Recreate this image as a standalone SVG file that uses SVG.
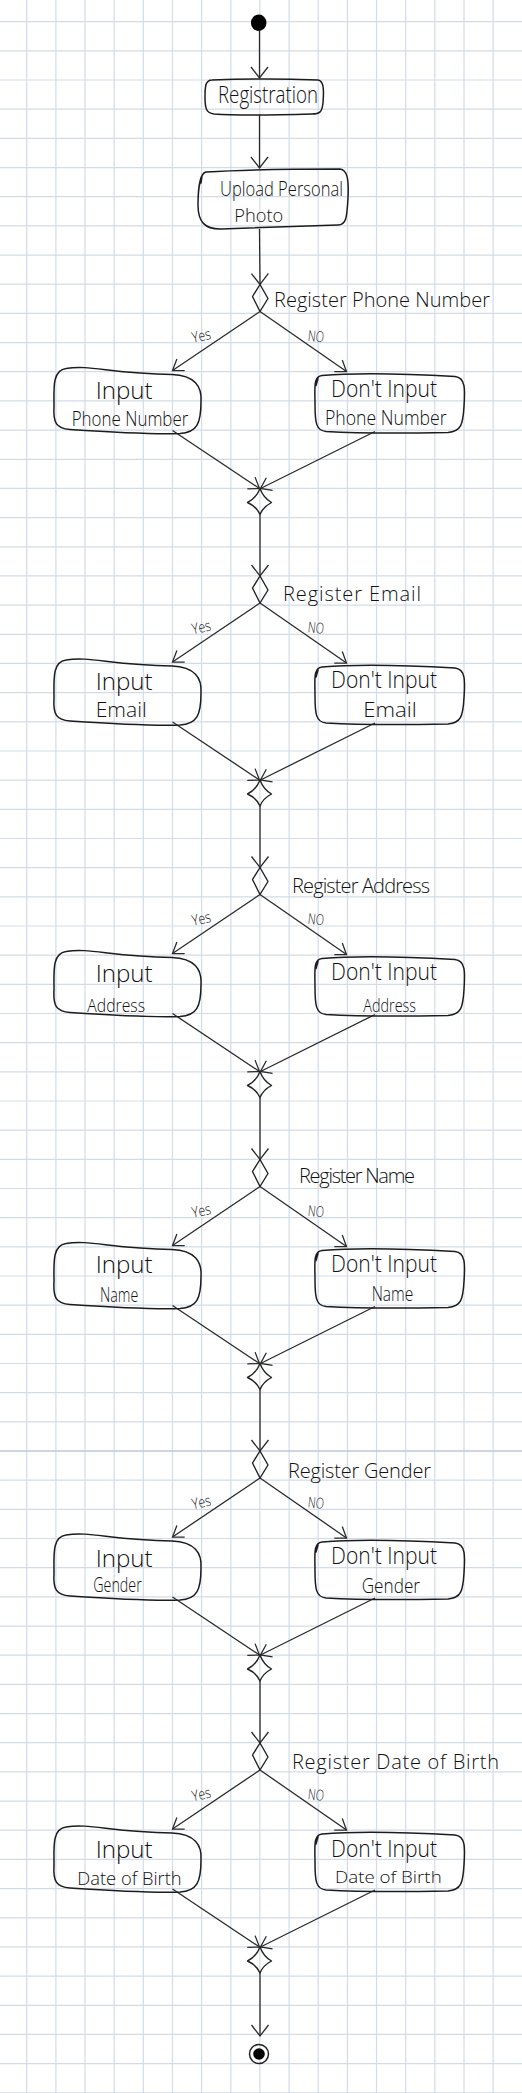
<svg xmlns="http://www.w3.org/2000/svg" xmlns:xlink="http://www.w3.org/1999/xlink" width="522" height="2093" viewBox="0 0 522 2093">
<style>
.grid{stroke:#d3dbe9;stroke-width:1.2;fill:none}
.box{fill:none;stroke:#1c1c1c;stroke-width:1.5;stroke-linejoin:round;stroke-linecap:round}
.dia{fill:none;stroke:#222;stroke-width:1.4;stroke-linejoin:round}
.conn line{stroke:#2a2a2a;stroke-width:1.3}
.v{marker-end:url(#ahv)}
.d{marker-end:url(#ahd)}
text{font-family:"Open Sans","Liberation Sans",Arial,sans-serif;font-weight:300;fill:#111}
.lab{font-size:20px}
.box1{font-size:23px}
.sm{font-size:15px}
</style>
<defs>
<marker id="ahv" viewBox="-13 -11 15 22" refX="0" refY="0" markerWidth="15" markerHeight="22" orient="auto" markerUnits="userSpaceOnUse">
<path d="M-11 -8.5 L0 0 L-11 8.5" fill="none" stroke="#2a2a2a" stroke-width="1.3"/>
</marker>
<marker id="ahd" viewBox="-12 -9 14 18" refX="0" refY="0" markerWidth="14" markerHeight="18" orient="auto" markerUnits="userSpaceOnUse">
<path d="M-10 -7 L0 0 L-10 7" fill="none" stroke="#2a2a2a" stroke-width="1.3"/>
</marker>
<path id="dec" class="dia" d="M0 -14 L8 0 L0 13 L-7.5 -2 Z"/>
<path id="merge" class="dia" d="M0 0 Q3.5 9.5 11.5 14 Q3 18.5 0 26 Q-3.5 18 -12.5 14 Q-3.5 9.5 0 0 Z"/>
<path id="boxL" class="box" d="M66 70 C90 66 110 75 172 76 C195 77 202 88 201 103 C201 125 197 134 180 135 C150 136 100 133 70 131 C56 130 53 124 54 108 C54 90 52 72 66 70 Z"/>
<path id="boxR" class="box" d="M322 77 C360 74 400 75 455 78 C466 79 465 92 464 108 C463 126 461 133 448 134 C400 135 360 135 326 133 C316 132 315 124 315 106 C315 90 313 78 322 77 Z M318 80 L316 87"/>
</defs>

<g id="grid">
<path class="grid" d="M26.7 0V2093M55.9 0V2093M85 0V2093M114.2 0V2093M143.3 0V2093M172.5 0V2093M201.6 0V2093M230.8 0V2093M259.9 0V2093M289.1 0V2093M318.2 0V2093M347.4 0V2093M376.5 0V2093M405.7 0V2093M434.8 0V2093M464 0V2093M493.1 0V2093
M0 21.7H522M0 50.9H522M0 80H522M0 109.2H522M0 138.4H522M0 167.6H522M0 196.7H522M0 225.9H522M0 255.1H522M0 284.2H522M0 313.4H522M0 342.6H522M0 371.7H522M0 400.9H522M0 430.1H522M0 459.3H522M0 488.4H522M0 517.6H522M0 546.8H522M0 575.9H522M0 605.1H522M0 634.3H522M0 663.4H522M0 692.6H522M0 721.8H522M0 751H522M0 780.1H522M0 809.3H522M0 838.5H522M0 867.6H522M0 896.8H522M0 926H522M0 955.1H522M0 984.3H522M0 1013.5H522M0 1042.7H522M0 1071.8H522M0 1101H522M0 1130.2H522M0 1159.3H522M0 1188.5H522M0 1217.7H522M0 1246.8H522M0 1276H522M0 1305.2H522M0 1334.4H522M0 1363.5H522M0 1392.7H522M0 1421.9H522M0 1480.2H522M0 1509.4H522M0 1538.5H522M0 1567.7H522M0 1596.9H522M0 1626.1H522M0 1655.2H522M0 1684.4H522M0 1713.6H522M0 1742.7H522M0 1771.9H522M0 1801.1H522M0 1830.2H522M0 1859.4H522M0 1888.6H522M0 1917.8H522M0 1946.9H522M0 1976.1H522M0 2005.3H522M0 2034.4H522M0 2063.6H522M0 2092.8H522"/>
<path d="M0 1451H522" stroke="#bcc7dc" stroke-width="1.3"/>
</g>

<g id="connectors" class="conn">
<line class="v" x1="259.5" y1="30" x2="259.5" y2="78"/>
<line class="v" x1="259.5" y1="115" x2="259.5" y2="168"/>
<line class="v" x1="259.5" y1="229" x2="260" y2="284.5"/>
<line class="d" x1="260" y1="311.5" x2="172.5" y2="370.5"/>
<line class="d" x1="260" y1="311.5" x2="346.5" y2="371.5"/>
<line class="d" x1="172.5" y1="430.5" x2="259.5" y2="488.5"/>
<line class="d" x1="375" y1="431.5" x2="260.5" y2="488.5"/>
<line class="v" x1="260" y1="514.5" x2="260" y2="576"/>
<line class="d" x1="260" y1="603" x2="172.5" y2="662"/>
<line class="d" x1="260" y1="603" x2="346.5" y2="663"/>
<line class="d" x1="172.5" y1="722" x2="259.5" y2="780"/>
<line class="d" x1="375" y1="723" x2="260.5" y2="780"/>
<line class="v" x1="260" y1="806" x2="260" y2="867.5"/>
<line class="d" x1="260" y1="894.5" x2="172.5" y2="953.5"/>
<line class="d" x1="260" y1="894.5" x2="346.5" y2="954.5"/>
<line class="d" x1="172.5" y1="1013.5" x2="259.5" y2="1071.5"/>
<line class="d" x1="375" y1="1014.5" x2="260.5" y2="1071.5"/>
<line class="v" x1="260" y1="1097.5" x2="260" y2="1159.5"/>
<line class="d" x1="260" y1="1186.5" x2="172.5" y2="1245.5"/>
<line class="d" x1="260" y1="1186.5" x2="346.5" y2="1246.5"/>
<line class="d" x1="172.5" y1="1305.5" x2="259.5" y2="1363.5"/>
<line class="d" x1="375" y1="1306.5" x2="260.5" y2="1363.5"/>
<line class="v" x1="260" y1="1389.5" x2="260" y2="1451"/>
<line class="d" x1="260" y1="1478" x2="172.5" y2="1537"/>
<line class="d" x1="260" y1="1478" x2="346.5" y2="1538"/>
<line class="d" x1="172.5" y1="1597" x2="259.5" y2="1655"/>
<line class="d" x1="375" y1="1598" x2="260.5" y2="1655"/>
<line class="v" x1="260" y1="1681" x2="260" y2="1743"/>
<line class="d" x1="260" y1="1770" x2="172.5" y2="1829"/>
<line class="d" x1="260" y1="1770" x2="346.5" y2="1830"/>
<line class="d" x1="172.5" y1="1889" x2="259.5" y2="1947"/>
<line class="d" x1="375" y1="1890" x2="260.5" y2="1947"/>
<line class="v" x1="260" y1="1973" x2="260" y2="2036"/>
</g>

<g id="start"><ellipse cx="258.7" cy="22.7" rx="7.8" ry="8.2" fill="#000"/></g>

<g id="registration">
<path class="box" d="M212 80 C240 79 290 79 318 80 C324 81 324 90 323 103 C322 112 320 114 312 114 C280 115 240 116 214 114 C206 113 205 108 205 97 C205 88 205 80 212 80 Z M206 84 L205 91"/>
<text x="218" y="103" font-size="24" textLength="100" lengthAdjust="spacingAndGlyphs">Registration</text>
</g>

<g id="upload-photo">
<path class="box" d="M206 172 C240 170 280 169 340 169 C347 170 349 178 348 198 C347 218 346 225 338 225 C300 226 260 228 220 229 C205 229 198 222 198 205 C198 190 200 173 206 172 Z M202 176 L201 183"/>
<text x="220" y="196" font-size="20" textLength="123" lengthAdjust="spacingAndGlyphs">Upload Personal</text>
<text x="234.3" y="222" font-size="19" textLength="49" lengthAdjust="spacingAndGlyphs">Photo</text>
</g>

<g id="dec-phone"><use xlink:href="#dec" href="#dec" x="260" y="298.5"/>
<text class="lab" x="274" y="306.5" textLength="216" lengthAdjust="spacing">Register Phone Number</text>
<text class="sm" x="192" y="341" textLength="19" lengthAdjust="spacingAndGlyphs" transform="rotate(-12 201 337)">Yes</text>
<text class="sm" x="308" y="341.5" textLength="16" lengthAdjust="spacingAndGlyphs" transform="rotate(6 316 337)">NO</text></g>
<g id="input-phone"><use xlink:href="#boxL" href="#boxL" y="298.5"/>
<text class="box1" x="95.7" y="398.5" textLength="57" lengthAdjust="spacingAndGlyphs">Input</text>
<text x="71.7" y="425.7" font-size="21" textLength="116.6" lengthAdjust="spacingAndGlyphs">Phone Number</text></g>
<g id="noinput-phone"><use xlink:href="#boxR" href="#boxR" y="298.5"/>
<text class="box1" x="331" y="396.5" textLength="106" lengthAdjust="spacingAndGlyphs">Don't Input</text>
<text x="325" y="425" font-size="21" textLength="121.7" lengthAdjust="spacingAndGlyphs">Phone Number</text></g>
<g id="merge-phone"><use xlink:href="#merge" href="#merge" x="260" y="488.5"/></g>

<g id="dec-email"><use xlink:href="#dec" href="#dec" x="260" y="590"/>
<text class="lab" x="283" y="601" textLength="138" lengthAdjust="spacing">Register Email</text>
<text class="sm" x="192" y="632.5" textLength="19" lengthAdjust="spacingAndGlyphs" transform="rotate(-12 201 628.5)">Yes</text>
<text class="sm" x="308" y="633" textLength="16" lengthAdjust="spacingAndGlyphs" transform="rotate(6 316 628.5)">NO</text></g>
<g id="input-email"><use xlink:href="#boxL" href="#boxL" y="590"/>
<text class="box1" x="95.7" y="690" textLength="57" lengthAdjust="spacingAndGlyphs">Input</text>
<text x="95.7" y="716.7" font-size="20" textLength="51" lengthAdjust="spacingAndGlyphs">Email</text></g>
<g id="noinput-email"><use xlink:href="#boxR" href="#boxR" y="590"/>
<text class="box1" x="331" y="688.3" textLength="106" lengthAdjust="spacingAndGlyphs">Don't Input</text>
<text x="363.3" y="716.7" font-size="20" textLength="53.4" lengthAdjust="spacingAndGlyphs">Email</text></g>
<g id="merge-email"><use xlink:href="#merge" href="#merge" x="260" y="780"/></g>

<g id="dec-address"><use xlink:href="#dec" href="#dec" x="260" y="881.5"/>
<text class="lab" x="292" y="893" textLength="138" lengthAdjust="spacing">Register Address</text>
<text class="sm" x="192" y="924" textLength="19" lengthAdjust="spacingAndGlyphs" transform="rotate(-12 201 920)">Yes</text>
<text class="sm" x="308" y="924.5" textLength="16" lengthAdjust="spacingAndGlyphs" transform="rotate(6 316 920)">NO</text></g>
<g id="input-address"><use xlink:href="#boxL" href="#boxL" y="881.5"/>
<text class="box1" x="95.7" y="981.7" textLength="57" lengthAdjust="spacingAndGlyphs">Input</text>
<text x="87.3" y="1011.7" font-size="18" textLength="57.7" lengthAdjust="spacingAndGlyphs">Address</text></g>
<g id="noinput-address"><use xlink:href="#boxR" href="#boxR" y="881.5"/>
<text class="box1" x="331" y="980" textLength="106" lengthAdjust="spacingAndGlyphs">Don't Input</text>
<text x="363.3" y="1011.7" font-size="18" textLength="52.7" lengthAdjust="spacingAndGlyphs">Address</text></g>
<g id="merge-address"><use xlink:href="#merge" href="#merge" x="260" y="1071.5"/></g>

<g id="dec-name"><use xlink:href="#dec" href="#dec" x="260" y="1173.5"/>
<text class="lab" x="299" y="1183" textLength="116" lengthAdjust="spacing">Register Name</text>
<text class="sm" x="192" y="1216" textLength="19" lengthAdjust="spacingAndGlyphs" transform="rotate(-12 201 1212)">Yes</text>
<text class="sm" x="308" y="1216.5" textLength="16" lengthAdjust="spacingAndGlyphs" transform="rotate(6 316 1212)">NO</text></g>
<g id="input-name"><use xlink:href="#boxL" href="#boxL" y="1173.5"/>
<text class="box1" x="95.7" y="1273.3" textLength="57" lengthAdjust="spacingAndGlyphs">Input</text>
<text x="100" y="1301.7" font-size="20" textLength="38.3" lengthAdjust="spacingAndGlyphs">Name</text></g>
<g id="noinput-name"><use xlink:href="#boxR" href="#boxR" y="1173.5"/>
<text class="box1" x="331" y="1271.7" textLength="106" lengthAdjust="spacingAndGlyphs">Don't Input</text>
<text x="371.7" y="1300.7" font-size="20" textLength="41.6" lengthAdjust="spacingAndGlyphs">Name</text></g>
<g id="merge-name"><use xlink:href="#merge" href="#merge" x="260" y="1363.5"/></g>

<g id="dec-gender"><use xlink:href="#dec" href="#dec" x="260" y="1465"/>
<text class="lab" x="288" y="1478" textLength="143" lengthAdjust="spacing">Register Gender</text>
<text class="sm" x="192" y="1507.5" textLength="19" lengthAdjust="spacingAndGlyphs" transform="rotate(-12 201 1503.5)">Yes</text>
<text class="sm" x="308" y="1508" textLength="16" lengthAdjust="spacingAndGlyphs" transform="rotate(6 316 1503.5)">NO</text></g>
<g id="input-gender"><use xlink:href="#boxL" href="#boxL" y="1465"/>
<text class="box1" x="95.7" y="1566.7" textLength="57" lengthAdjust="spacingAndGlyphs">Input</text>
<text x="93.3" y="1591.7" font-size="20" textLength="48.4" lengthAdjust="spacingAndGlyphs">Gender</text></g>
<g id="noinput-gender"><use xlink:href="#boxR" href="#boxR" y="1465"/>
<text class="box1" x="331" y="1564" textLength="106" lengthAdjust="spacingAndGlyphs">Don't Input</text>
<text x="361.7" y="1593.3" font-size="20" textLength="58.3" lengthAdjust="spacingAndGlyphs">Gender</text></g>
<g id="merge-gender"><use xlink:href="#merge" href="#merge" x="260" y="1655"/></g>

<g id="dec-dob"><use xlink:href="#dec" href="#dec" x="260" y="1757"/>
<text class="lab" x="292" y="1769" textLength="207" lengthAdjust="spacing">Register Date of Birth</text>
<text class="sm" x="192" y="1799.5" textLength="19" lengthAdjust="spacingAndGlyphs" transform="rotate(-12 201 1795.5)">Yes</text>
<text class="sm" x="308" y="1800" textLength="16" lengthAdjust="spacingAndGlyphs" transform="rotate(6 316 1795.5)">NO</text></g>
<g id="input-dob"><use xlink:href="#boxL" href="#boxL" y="1757"/>
<text class="box1" x="95.7" y="1858.3" textLength="57" lengthAdjust="spacingAndGlyphs">Input</text>
<text x="77.3" y="1885" font-size="19" textLength="104.4" lengthAdjust="spacingAndGlyphs">Date of Birth</text></g>
<g id="noinput-dob"><use xlink:href="#boxR" href="#boxR" y="1757"/>
<text class="box1" x="331" y="1856.7" textLength="106" lengthAdjust="spacingAndGlyphs">Don't Input</text>
<text x="335" y="1883.3" font-size="17" textLength="106.7" lengthAdjust="spacingAndGlyphs">Date of Birth</text></g>
<g id="merge-dob"><use xlink:href="#merge" href="#merge" x="260" y="1947"/></g>

<g id="end">
<circle cx="259" cy="2054" r="9.5" fill="none" stroke="#222" stroke-width="1.5"/>
<circle cx="259" cy="2054" r="5.8" fill="#000"/>
</g>
</svg>
